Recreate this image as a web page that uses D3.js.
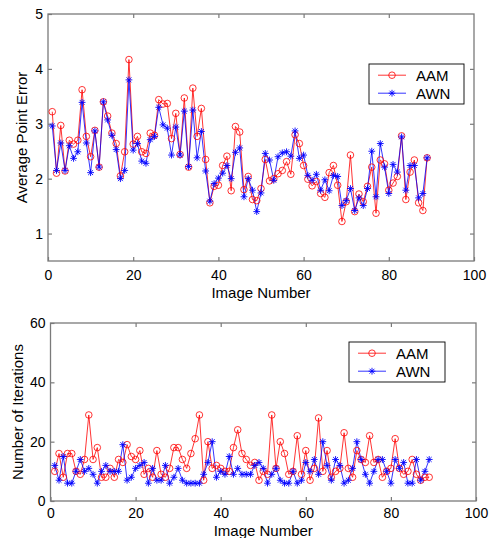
<!DOCTYPE html>
<html>
<head>
<meta charset="utf-8">
<script src="https://cdn.jsdelivr.net/npm/d3@7"></script>
<style>
  body { margin: 0; background: #fff; }
  svg { display: block; font-family: "Liberation Sans", Arial, sans-serif; }
</style>
</head>
<body>
<script>
// image numbers 1..89
const imageNumbers = d3.range(1, 90);

// top panel: average point error
const errorAAM = [
  3.22, 2.10, 2.97, 2.14, 2.70, 2.63, 2.70, 3.62, 2.77, 2.40,
  2.88, 2.21, 3.40, 3.14, 2.83, 2.64, 2.05, 2.49, 4.17, 2.63,
  2.77, 2.49, 2.46, 2.83, 2.79, 3.44, 3.36, 3.37, 2.73, 3.19,
  2.44, 3.47, 2.21, 3.65, 2.77, 3.28, 2.35, 1.56, 1.86, 1.88,
  2.24, 2.41, 1.78, 2.95, 2.85, 1.80, 2.04, 1.62, 1.60, 1.82,
  2.35, 1.96, 2.00, 2.09, 2.15, 2.31, 2.08, 2.80, 2.64, 2.24,
  1.99, 1.87, 1.95, 1.73, 1.66, 2.11, 2.24, 1.88, 1.22, 1.58,
  2.43, 1.40, 1.72, 1.58, 1.86, 2.21, 1.37, 2.34, 2.27, 1.79,
  1.92, 2.04, 2.78, 1.62, 2.12, 2.34, 1.56, 1.42, 2.38
];
const errorAWN = [
  2.96, 2.15, 2.65, 2.15, 2.60, 2.37, 2.49, 3.39, 2.65, 2.11,
  2.87, 2.21, 3.40, 3.07, 2.79, 2.53, 2.00, 2.15, 3.80, 2.52,
  2.64, 2.32, 2.28, 2.71, 2.77, 3.30, 2.98, 2.92, 2.43, 2.94,
  2.43, 3.23, 2.22, 3.25, 2.38, 2.86, 2.14, 1.59, 1.91, 2.01,
  2.10, 2.24, 2.00, 2.48, 2.56, 1.67, 2.00, 1.79, 1.40, 1.74,
  2.46, 2.34, 1.97, 2.40, 2.47, 2.49, 2.41, 2.87, 2.37, 2.43,
  2.06, 1.97, 2.08, 1.79, 1.98, 1.78, 2.06, 2.04, 1.51, 1.60,
  1.82, 1.42, 1.65, 1.51, 1.82, 2.50, 1.67, 2.64, 2.21, 1.73,
  2.26, 2.12, 2.76, 1.79, 2.24, 2.24, 1.65, 1.73, 2.38
];

// bottom panel: number of iterations
const iterAAM = [
  10, 16, 8, 16, 16, 10, 9, 14, 29, 14,
  18, 8, 8, 11, 8, 14, 13, 19, 15, 14,
  17, 9, 11, 8, 17, 9, 8, 11, 18, 18,
  14, 11, 16, 21, 29, 7, 20, 11, 12, 11,
  10, 10, 18, 24, 16, 14, 12, 13, 7, 10,
  9, 29, 11, 20, 16, 9, 10, 22, 9, 17,
  7, 11, 28, 10, 17, 8, 10, 11, 23, 11,
  8, 17, 14, 13, 22, 13, 14, 8, 10, 11,
  21, 11, 9, 10, 14, 9, 7, 8, 8
];
const iterAWN = [
  12, 7, 15, 6, 6, 10, 14, 10, 11, 9,
  6, 10, 12, 10, 10, 10, 19, 7, 8, 11,
  12, 13, 6, 11, 7, 7, 12, 6, 8, 11,
  7, 6, 6, 6, 6, 9, 13, 20, 8, 10,
  9, 15, 9, 11, 9, 9, 9, 12, 13, 11,
  6, 9, 11, 7, 6, 6, 10, 6, 7, 13,
  10, 14, 9, 20, 12, 7, 14, 12, 6, 7,
  11, 20, 14, 9, 6, 10, 14, 14, 10, 6,
  14, 11, 13, 6, 6, 14, 7, 10, 14
];

const seriesNames = ["AAM", "AWN"];
const xTicks = [0, 20, 40, 60, 80, 100];
const errorTicks = [1, 2, 3, 4, 5];
const iterTicks = [0, 20, 40, 60];

const W = 496, H = 538;
const svg = d3.select("body").append("svg").attr("width", W).attr("height", H);

const red = "#ff0000", blue = "#0000ff", boxColor = "#7a7a7a";

const starPath = s => {
  const a = s * 0.72;
  return `M0,${-s}V${s}M${-s},0H${s}M${-a},${-a}L${a},${a}M${-a},${a}L${a},${-a}`;
};

function panel(opt) {
  const { left, right, top, bottom, yDomain, yTicks, a, b, ylabel, xlabelY, ylabelX, xPad, legend } = opt;
  const x = d3.scaleLinear().domain([0, 100]).range([left, right]);
  const y = d3.scaleLinear().domain(yDomain).range([bottom, top]);
  const g = svg.append("g");

  // box
  g.append("rect")
    .attr("x", left).attr("y", top)
    .attr("width", right - left).attr("height", bottom - top)
    .attr("fill", "none").attr("stroke", boxColor).attr("stroke-width", 1.3);

  const styleAxis = sel => {
    sel.select(".domain").remove();
    sel.selectAll(".tick line").attr("stroke", boxColor).attr("stroke-width", 1.2);
    sel.selectAll("text").attr("fill", "#000").style("font-size", "14px")
      .style("font-family", "'Liberation Sans', Arial, sans-serif");
  };

  g.append("g").attr("transform", `translate(0,${bottom})`)
    .call(d3.axisBottom(x).tickValues(xTicks).tickSize(-4).tickPadding(xPad).tickFormat(d3.format("d")))
    .call(styleAxis);
  g.append("g").attr("transform", `translate(0,${top})`)
    .call(d3.axisTop(x).tickValues(xTicks.slice(1, -1)).tickSize(-4).tickFormat(""))
    .call(styleAxis);
  g.append("g").attr("transform", `translate(${left},0)`)
    .call(d3.axisLeft(y).tickValues(yTicks).tickSize(-4).tickPadding(5).tickFormat(d3.format("d")))
    .call(styleAxis);
  g.append("g").attr("transform", `translate(${right},0)`)
    .call(d3.axisRight(y).tickValues(yTicks.filter(v => v > yDomain[0] && v < yDomain[1])).tickSize(-4).tickFormat(""))
    .call(styleAxis);

  const line = d3.line().x((d, i) => x(imageNumbers[i])).y(d => y(d));

  g.append("path").datum(a).attr("d", line)
    .attr("fill", "none").attr("stroke", red).attr("stroke-width", 0.8);
  g.append("path").datum(b).attr("d", line)
    .attr("fill", "none").attr("stroke", blue).attr("stroke-width", 0.8);

  g.append("g").selectAll("circle").data(a).join("circle")
    .attr("cx", (d, i) => x(imageNumbers[i])).attr("cy", d => y(d)).attr("r", 3.3)
    .attr("fill", "none").attr("stroke", red).attr("stroke-width", 0.8);
  g.append("g").selectAll("path").data(b).join("path")
    .attr("transform", (d, i) => `translate(${x(imageNumbers[i])},${y(d)})`)
    .attr("d", starPath(3.4))
    .attr("fill", "none").attr("stroke", blue).attr("stroke-width", 0.9);

  // axis labels
  g.append("text").attr("x", (left + right) / 2).attr("y", xlabelY)
    .attr("text-anchor", "middle").style("font-size", "15px").text("Image Number");
  g.append("text")
    .attr("transform", `translate(${ylabelX},${(top + bottom) / 2}) rotate(-90)`)
    .attr("text-anchor", "middle").style("font-size", "15px").text(ylabel);

  // legend
  const lg = g.append("g");
  lg.append("rect").attr("x", legend.x).attr("y", legend.y)
    .attr("width", legend.w).attr("height", legend.h)
    .attr("fill", "#fff").attr("stroke", "#000").attr("stroke-width", 0.9);
  const colors = [red, blue];
  seriesNames.forEach((name, k) => {
    const cy = legend.y + legend.h * (k === 0 ? 0.28 : 0.73);
    const x0 = legend.x + 9, x1 = legend.x + 37, xm = (x0 + x1) / 2;
    lg.append("line").attr("x1", x0).attr("x2", x1).attr("y1", cy).attr("y2", cy)
      .attr("stroke", colors[k]).attr("stroke-width", 0.8);
    if (k === 0) {
      lg.append("circle").attr("cx", xm).attr("cy", cy).attr("r", 3.3)
        .attr("fill", "none").attr("stroke", red).attr("stroke-width", 0.8);
    } else {
      lg.append("path").attr("transform", `translate(${xm},${cy})`).attr("d", starPath(3.4))
        .attr("fill", "none").attr("stroke", blue).attr("stroke-width", 0.9);
    }
    lg.append("text").attr("x", legend.x + 47).attr("y", cy).attr("dy", "0.36em")
      .style("font-size", "15px").text(name);
  });
}

panel({
  left: 48, right: 474, top: 14, bottom: 261,
  yDomain: [0.5, 5], yTicks: errorTicks,
  a: errorAAM, b: errorAWN,
  ylabel: "Average Point Error", xlabelY: 298, ylabelX: 27, xPad: 9,
  legend: { x: 369, y: 64, w: 95, h: 40 }
});

panel({
  left: 50.5, right: 476, top: 323, bottom: 501,
  yDomain: [0, 60], yTicks: iterTicks,
  a: iterAAM, b: iterAWN,
  ylabel: "Number of Iterations", xlabelY: 536, ylabelX: 23, xPad: 7,
  legend: { x: 349, y: 342, w: 96, h: 40 }
});
</script>
</body>
</html>
